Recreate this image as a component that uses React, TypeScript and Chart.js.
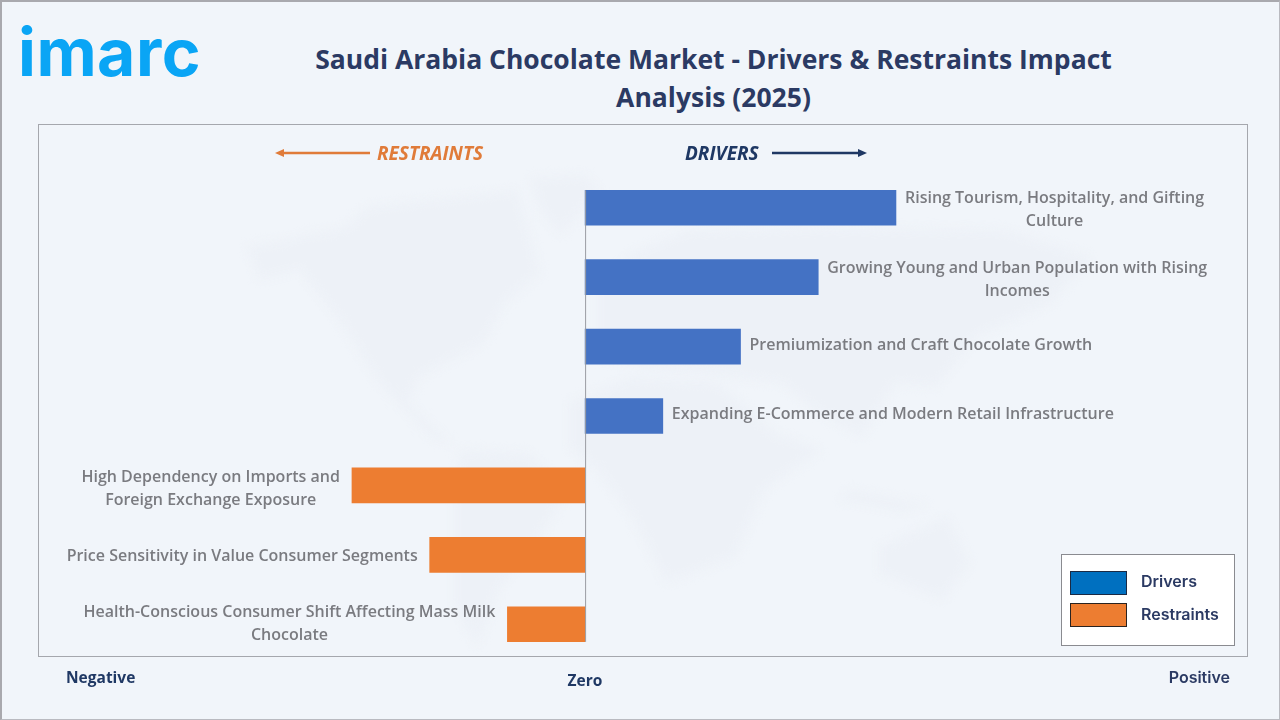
import { useEffect, useRef } from "react";
import { Chart, registerables } from "chart.js";

Chart.register(...registerables);

const titleLines = [
  "Saudi Arabia Chocolate Market - Drivers & Restraints Impact",
  "Analysis (2025)"
];
const categories = [
  ["Rising Tourism, Hospitality, and Gifting", "Culture"],
  ["Growing Young and Urban Population with Rising", "Incomes"],
  ["Premiumization and Craft Chocolate Growth"],
  ["Expanding E-Commerce and Modern Retail Infrastructure"],
  ["High Dependency on Imports and", "Foreign Exchange Exposure"],
  ["Price Sensitivity in Value Consumer Segments"],
  ["Health-Conscious Consumer Shift Affecting Mass Milk", "Chocolate"]
];
const drivers = [4, 3, 2, 1, null, null, null];
const restraints = [null, null, null, null, -3, -2, -1];

const BAR_BLUE = "#4472c4";
const BAR_ORANGE = "#ed7d31";
const NAVY = "#2b3a63";
const DARK_BLUE = "#1f3864";
const LABEL_FONT = '600 16px "Open Sans", sans-serif';

// the labels don't sit exactly on the bar centres in the original
const labelNudge = [2, 3, -1, -2, 4, 2, 0];

// faint world map behind the chart
const mapShapes = [
  "247,247 345,227 368,207 517,190 540,273 505,303 483,343 419,377 408,403 454,447 431,437 379,383 339,320 299,270 259,280",
  "530,178 585,175 600,190 560,235 540,210",
  "460,450 528,453 569,490 540,537 500,587 477,647 454,603 454,503",
  "597,287 632,253 689,230 804,227 1005,230 1091,257 1051,303 976,337 936,387 896,383 861,437 815,410 781,383 729,377 649,370 597,357",
  "569,403 632,377 718,383 775,433 821,450 764,490 735,557 666,583 632,517 597,470 569,447",
  "879,547 948,517 970,563 942,600 879,573",
  "850,490 930,505 900,512 840,500"
];

// zero line + the text next to each bar
const barTextPlugin = {
  id: "barText",
  afterDatasetsDraw(chart: Chart) {
    const { ctx } = chart;
    const x0 = chart.scales.x.getPixelForValue(0);
    const y = chart.scales.y;
    const half = 17.5;

    ctx.save();
    ctx.strokeStyle = "#9a9ca3";
    ctx.lineWidth = 1;
    ctx.beginPath();
    ctx.moveTo(x0 + 0.5, y.getPixelForValue(0) - half);
    ctx.lineTo(x0 + 0.5, y.getPixelForValue(categories.length - 1) + half);
    ctx.stroke();

    ctx.font = LABEL_FONT;
    ctx.fillStyle = "#7a7b80";
    ctx.textAlign = "center";
    ctx.textBaseline = "middle";
    categories.forEach((lines, i) => {
      const value = drivers[i] ?? restraints[i];
      if (value == null) return;
      const end = chart.scales.x.getPixelForValue(value);
      const width = Math.max(...lines.map((l) => ctx.measureText(l).width));
      const cx = value > 0 ? end + 9 + width / 2 : end - 12 - width / 2;
      const cy = y.getPixelForValue(i) + labelNudge[i];
      lines.forEach((line, j) => {
        const offset = lines.length > 1 ? (j - 0.5) * 23 : 0;
        ctx.fillText(line, cx, cy + offset);
      });
    });
    ctx.restore();
  }
};

function Text({ x, y, align, style, children }: any) {
  const shift = align === "center" ? "-50%" : align === "right" ? "-100%" : "0";
  return (
    <div
      style={{
        position: "absolute",
        left: x,
        top: y,
        transform: `translate(${shift}, -50%)`,
        whiteSpace: "nowrap",
        fontFamily: '"Open Sans", sans-serif',
        ...style
      }}
    >
      {children}
    </div>
  );
}

export default function App() {
  const canvasRef = useRef<HTMLCanvasElement | null>(null);

  useEffect(() => {
    if (!canvasRef.current) return;
    const chart = new Chart(canvasRef.current, {
      type: "bar",
      data: {
        labels: categories,
        datasets: [
          { label: "Drivers", data: drivers, backgroundColor: BAR_BLUE, barThickness: 35 },
          { label: "Restraints", data: restraints, backgroundColor: BAR_ORANGE, barThickness: 35 }
        ]
      },
      options: {
        indexAxis: "y",
        responsive: false,
        animation: false,
        layout: { padding: { left: 38, right: 32, top: 173, bottom: 61 } },
        scales: {
          x: { stacked: true, display: false, min: -7.04, max: 8.53 },
          y: { stacked: true, display: false }
        },
        plugins: { legend: { display: false }, tooltip: { enabled: false } }
      },
      plugins: [barTextPlugin]
    });
    return () => chart.destroy();
  }, []);

  return (
    <div
      style={{
        position: "absolute",
        left: 0,
        top: 0,
        width: 1280,
        height: 720,
        boxSizing: "border-box",
        background: "#f1f5fa",
        borderStyle: "solid",
        borderWidth: "2px 1px 1px 2px",
        borderColor: "#a9a9ae #b9bac0 #b9bac0 #a9a9ae",
        overflow: "hidden"
      }}
    >
      <div style={{ position: "absolute", left: -2, top: -2, width: 1280, height: 720 }}>
        <svg width={1280} height={720} style={{ position: "absolute", left: 0, top: 0, filter: "blur(5px)" }}>
          {mapShapes.map((points) => (
            <polygon key={points} points={points} fill="#edf1f7" />
          ))}
        </svg>
        <Text x={18} y={52} style={{ fontFamily: "Inter", fontWeight: 700, fontSize: 66, letterSpacing: 0.5, color: "#0aa5f5" }}>
          imarc
        </Text>
        {titleLines.map((line, i) => (
          <Text key={line} x={713.5} y={59 + i * 38} align="center" style={{ fontWeight: 700, fontSize: 26.5, color: NAVY }}>
            {line}
          </Text>
        ))}
        <div
          style={{
            position: "absolute",
            left: 38,
            top: 124,
            width: 1210,
            height: 533,
            boxSizing: "border-box",
            border: "1px solid #a5a7ad"
          }}
        />
        <canvas ref={canvasRef} width={1280} height={720} style={{ position: "absolute", left: 0, top: 0 }} />
        <svg width={1280} height={720} style={{ position: "absolute", left: 0, top: 0 }}>
          <line x1={282} y1={153} x2={370} y2={153} stroke="#e07b39" strokeWidth={2.5} />
          <polygon points="275,153 284,149 284,157" fill="#e07b39" />
          <line x1={772} y1={153} x2={860} y2={153} stroke={DARK_BLUE} strokeWidth={2.5} />
          <polygon points="867,153 858,149 858,157" fill={DARK_BLUE} />
        </svg>
        <Text x={377} y={153} style={{ fontWeight: 700, fontStyle: "italic", fontSize: 19, color: "#e07b39" }}>
          RESTRAINTS
        </Text>
        <Text x={685} y={153} style={{ fontWeight: 700, fontStyle: "italic", fontSize: 19, color: DARK_BLUE }}>
          DRIVERS
        </Text>
        <Text x={66} y={677} style={{ fontWeight: 700, fontSize: 15.5, color: DARK_BLUE }}>Negative</Text>
        <Text x={585} y={680} align="center" style={{ fontWeight: 700, fontSize: 15.5, color: DARK_BLUE }}>Zero</Text>
        <Text x={1230} y={677} align="right" style={{ fontFamily: "Inter", fontWeight: 600, fontSize: 16, color: NAVY }}>Positive</Text>
        <div
          style={{
            position: "absolute",
            left: 1061,
            top: 554,
            width: 174,
            height: 92,
            boxSizing: "border-box",
            background: "#ffffff",
            border: "1px solid #8a8b90"
          }}
        />
        <div style={{ position: "absolute", left: 1070, top: 571, width: 57, height: 24, boxSizing: "border-box", background: "#0070c0", border: "1px solid #1b2a44" }} />
        <div style={{ position: "absolute", left: 1070, top: 603, width: 57, height: 24, boxSizing: "border-box", background: BAR_ORANGE, border: "1px solid #2a2320" }} />
        <Text x={1141} y={581} style={{ fontFamily: "Inter", fontWeight: 600, fontSize: 16, color: NAVY }}>Drivers</Text>
        <Text x={1141} y={614} style={{ fontFamily: "Inter", fontWeight: 600, fontSize: 16, color: NAVY }}>Restraints</Text>
      </div>
    </div>
  );
}
